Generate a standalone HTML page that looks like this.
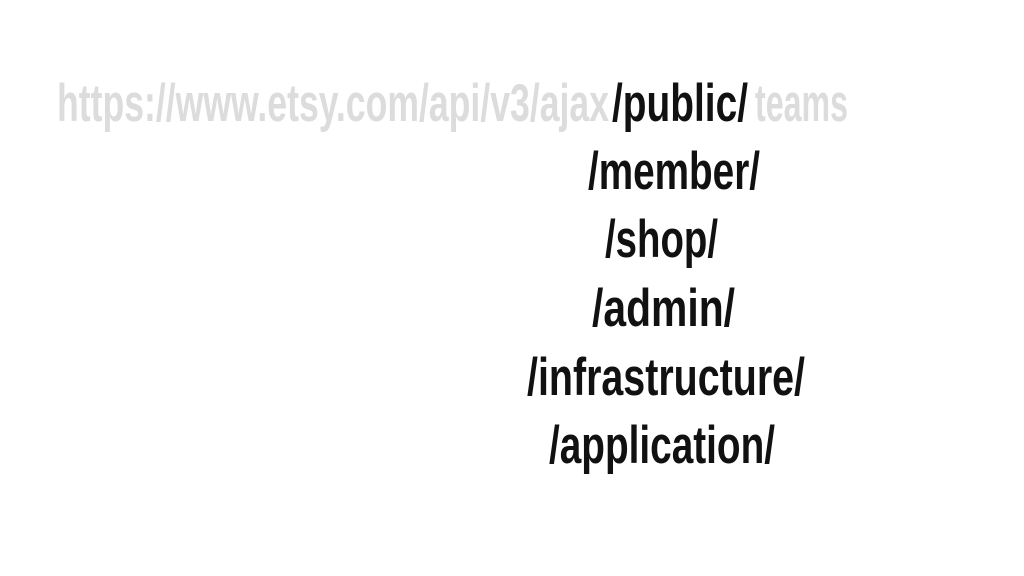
<!DOCTYPE html>
<html><head><meta charset="utf-8"><style>
html,body{margin:0;padding:0;background:#fff;width:1024px;height:576px;overflow:hidden}
svg text{font-family:"Liberation Sans Narrow","Liberation Sans",sans-serif;font-weight:bold;font-size:53px}
</style></head><body>
<svg width="1024" height="576" viewBox="0 0 1024 576">
<text x="57" y="121" fill="#dcdcdc" textLength="552" lengthAdjust="spacingAndGlyphs">https://www.etsy.com/api/v3/ajax</text>
<text x="612" y="121" fill="#111" textLength="136" lengthAdjust="spacingAndGlyphs">/public/</text>
<text x="755" y="121" fill="#dcdcdc" textLength="93" lengthAdjust="spacingAndGlyphs">teams</text>
<text x="588" y="189" fill="#111" textLength="172" lengthAdjust="spacingAndGlyphs">/member/</text>
<text x="605" y="257" fill="#111" textLength="113" lengthAdjust="spacingAndGlyphs">/shop/</text>
<text x="592" y="326" fill="#111" textLength="143" lengthAdjust="spacingAndGlyphs">/admin/</text>
<text x="527" y="395" fill="#111" textLength="278" lengthAdjust="spacingAndGlyphs">/infrastructure/</text>
<text x="549" y="463" fill="#111" textLength="226" lengthAdjust="spacingAndGlyphs">/application/</text>
</svg>
</body></html>
